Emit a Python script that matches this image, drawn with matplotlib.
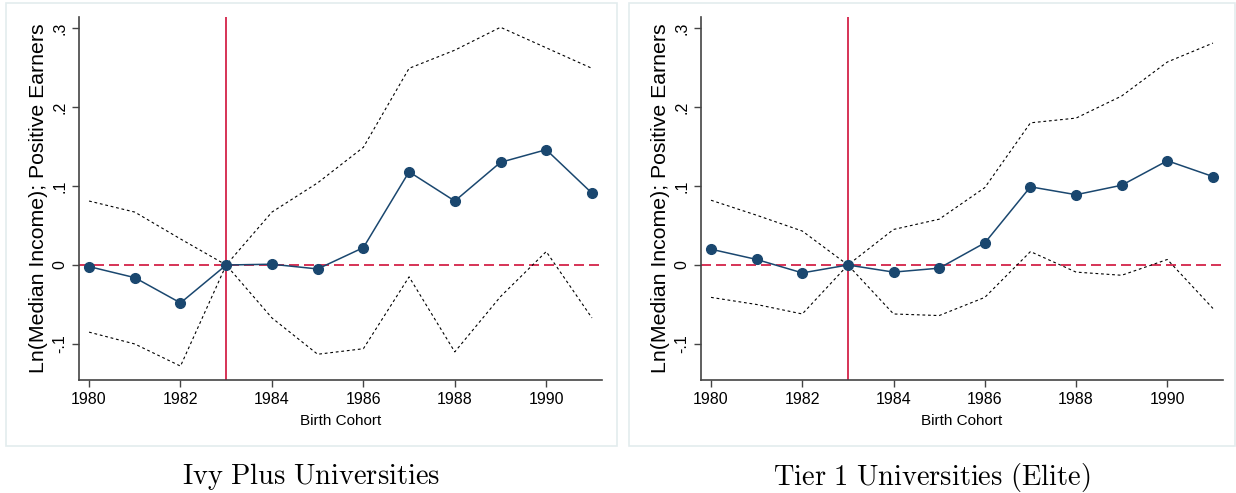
import numpy as np
import matplotlib
matplotlib.use("Agg")
import matplotlib.pyplot as plt
from matplotlib.patches import Rectangle

plt.rcParams['font.family'] = ['Liberation Sans', 'DejaVu Sans']
plt.rcParams['mathtext.fontset'] = 'cm'

years = np.arange(1980, 1992)

# Ivy Plus universities
ivy_est = [-0.002, -0.016, -0.048, 0.0, 0.001, -0.005, 0.022, 0.118, 0.081, 0.130, 0.146, 0.091]
ivy_hi = [0.081, 0.067, 0.033, 0.0, 0.067, 0.104, 0.149, 0.249, 0.272, 0.301, 0.275, 0.249]
ivy_lo = [-0.085, -0.100, -0.128, 0.0, -0.067, -0.113, -0.106, -0.015, -0.110, -0.040, 0.017, -0.067]

# Tier 1 (elite) universities
t1_est = [0.020, 0.007, -0.010, 0.0, -0.009, -0.004, 0.028, 0.099, 0.089, 0.101, 0.132, 0.112]
t1_hi = [0.082, 0.063, 0.043, 0.0, 0.045, 0.058, 0.098, 0.180, 0.186, 0.214, 0.257, 0.281]
t1_lo = [-0.041, -0.050, -0.062, 0.0, -0.062, -0.064, -0.041, 0.017, -0.009, -0.013, 0.007, -0.055]

captions = ["Ivy Plus Universities", "Tier 1 Universities (Elite)"]
yticks = [-0.1, 0, 0.1, 0.2, 0.3]
ytick_labels = ["-.1", "0", ".1", ".2", ".3"]
xticks = [1980, 1982, 1984, 1986, 1988, 1990]

W, H = 1236, 493
fig = plt.figure(figsize=(W / 100, H / 100), dpi=100)

navy = '#1a476f'
red = '#d0103a'
border = '#e3ecee'

panels = [(ivy_est, ivy_hi, ivy_lo), (t1_est, t1_hi, t1_lo)]
axes_px = [(79, 602), (701, 1223)]
boxes_px = [(6, 617), (629, 1235)]

for (est, hi, lo), (x0, x1), (b0, b1), cap in zip(panels, axes_px, boxes_px, captions):
    # light frame around each graph region
    fig.patches.append(Rectangle((b0 / W, 1 - 446 / H), (b1 - b0) / W, (446 - 3) / H,
                                 transform=fig.transFigure, fill=False,
                                 edgecolor=border, linewidth=1.2))
    ax = fig.add_axes([x0 / W, 1 - 380 / H, (x1 - x0) / W, (380 - 17) / H])
    ax.axhline(0, color=red, linestyle=(0, (6, 3)), linewidth=1.2, zorder=1)
    ax.axvline(1983, color=red, linewidth=1.2, zorder=1)
    ax.plot(years, hi, color='black', linestyle=(0, (2.5, 2.5)), linewidth=0.8, zorder=2)
    ax.plot(years, lo, color='black', linestyle=(0, (2.5, 2.5)), linewidth=0.8, zorder=2)
    ax.plot(years, est, color=navy, linewidth=1.1, marker='o', markersize=7,
            markerfacecolor=navy, markeredgecolor=navy, zorder=3)

    ax.set_xlim(1979.78, 1991.22)
    ax.set_ylim(-0.1456, 0.314)
    ax.set_xticks(xticks)
    ax.set_yticks(yticks)
    ax.set_yticklabels(ytick_labels, rotation=90, va='center')
    ax.tick_params(axis='both', labelsize=11.5, direction='out', length=5,
                   width=1, color='#444444')
    for s in ['top', 'right']:
        ax.spines[s].set_visible(False)
    for s in ['left', 'bottom']:
        ax.spines[s].set_color('#444444')
        ax.spines[s].set_linewidth(1.2)
    ax.set_xlabel('Birth Cohort', fontsize=11, labelpad=5)
    ax.set_ylabel('Ln(Median Income); Positive Earners', fontsize=15.3, labelpad=3)

    cx = (b0 + b1) / 2 / W
    fig.text(cx, 1 - 477 / H, r'$\mathrm{' + cap.replace(' ', r'\ ') + '}$',
             ha='center', va='center', fontsize=20.5)

fig.savefig('out.png', dpi=100)
